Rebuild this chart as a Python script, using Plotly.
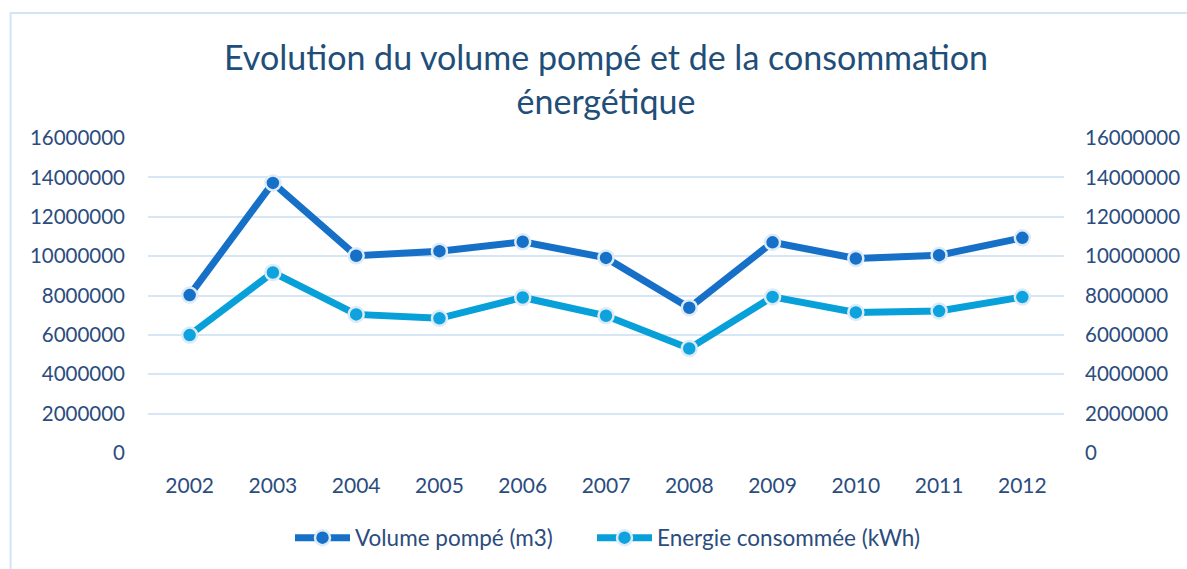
import plotly.graph_objects as go

years = ["2002", "2003", "2004", "2005", "2006", "2007", "2008", "2009", "2010", "2011", "2012"]
volume_m3 = [8020000, 13720000, 10020000, 10250000, 10730000, 9910000, 7380000, 10700000, 9880000, 10050000, 10930000]
energie_kwh = [5990000, 9170000, 7040000, 6840000, 7900000, 6970000, 5310000, 7930000, 7140000, 7210000, 7920000]
tick_vals = [0, 2000000, 4000000, 6000000, 8000000, 10000000, 12000000, 14000000, 16000000]
tick_text = [str(v) for v in tick_vals]

FONT = "Lato"
TXT = "#2B4C7E"
GRID = "#D6E6F5"

fig = go.Figure()
fig.add_trace(go.Scatter(
    x=years, y=volume_m3, name="Volume pompé (m3)", mode="lines+markers",
    line=dict(color="#1670C7", width=7), legend="legend", showlegend=True,
    marker=dict(size=15, color="#1670C7", line=dict(color="#DCEBF8", width=2.5)),
))
fig.add_trace(go.Scatter(
    x=years, y=energie_kwh, name="Energie consommée (kWh)", mode="lines+markers", yaxis="y2",
    line=dict(color="#08A0D9", width=7), legend="legend2", showlegend=True,
    marker=dict(size=15, color="#0EA3DF", line=dict(color="#DCEBF8", width=2.5)),
))

W, H = 1187, 569
ml, mr, mt, mb = 147.5, 123, 138, 116
pw, ph = W - ml - mr, H - mt - mb

def px_x(x):
    return (x - ml) / pw

def px_y(y):
    return (H - mb - y) / ph

legend_common = dict(
    orientation="h", xref="container", yref="container",
    xanchor="left", y=1 - 538 / H, yanchor="middle",
    font=dict(size=22.5, color=TXT), bgcolor="rgba(0,0,0,0)",
    itemwidth=55, visible=True,
)

fig.update_layout(
    width=W, height=H, showlegend=True,
    margin=dict(l=ml, r=mr, t=mt, b=mb, autoexpand=False),
    paper_bgcolor="white", plot_bgcolor="white",
    font=dict(family=FONT, color=TXT, size=21),
    title=dict(
        text="Evolution du volume pompé et de la consommation<br>énergétique",
        x=606 / W, xanchor="center", xref="container",
        y=1 - 70 / H, yanchor="middle", yref="container",
        font=dict(family=FONT, size=34, color="#1F4E79"),
    ),
    xaxis=dict(
        type="category", range=[-0.5, 10.5], showgrid=False, showline=False,
        ticks="", tickfont=dict(size=21, color=TXT), ticklabelstandoff=18,
        zeroline=False, automargin=False,
    ),
    yaxis=dict(
        range=[0, 16000000], tickvals=tick_vals, ticktext=tick_text,
        showgrid=True, gridcolor=GRID, gridwidth=1.5, zeroline=False,
        showline=False, ticks="", ticklabelstandoff=22, automargin=False,
        tickfont=dict(size=20.5, color=TXT),
    ),
    yaxis2=dict(
        range=[0, 16000000], tickvals=tick_vals, ticktext=tick_text,
        overlaying="y", side="right", showgrid=False, zeroline=False,
        showline=False, ticks="", ticklabelstandoff=20, automargin=False,
        tickfont=dict(size=20.5, color=TXT),
    ),
    legend=dict(x=290 / W, **legend_common),
    legend2=dict(x=592 / W, **legend_common),
    shapes=[dict(
        type="rect", xref="paper", yref="paper",
        x0=px_x(10), x1=px_x(1200), y0=px_y(600), y1=px_y(13),
        line=dict(color="#D4E4F6", width=2), layer="below",
    )],
)

fig.write_html(
    "out.html",
    config={"displayModeBar": False},
    post_script="document.body.style.margin='0';document.body.style.padding='0';",
)
